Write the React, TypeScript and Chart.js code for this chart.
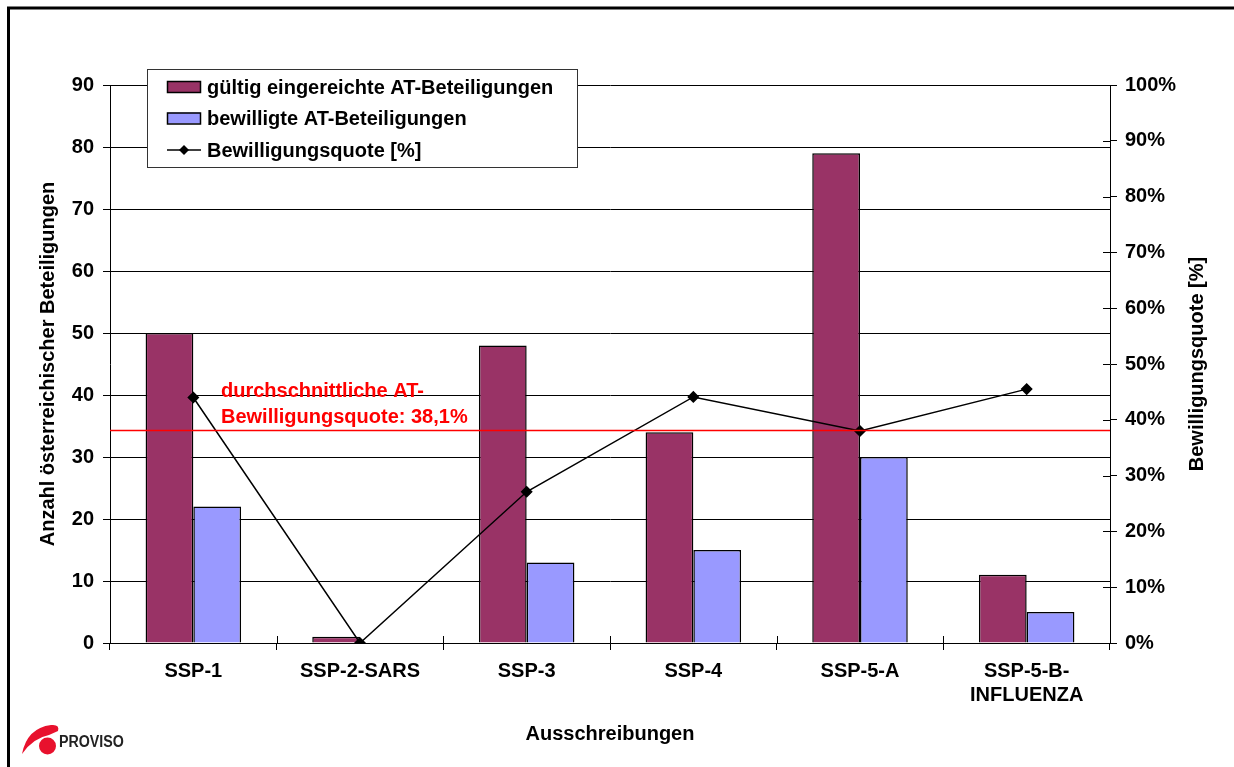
import React, { useEffect, useRef } from "react";
import { Chart, registerables } from "chart.js";

Chart.register(...registerables);

const categories: (string | string[])[] = ["SSP-1", "SSP-2-SARS", "SSP-3", "SSP-4", "SSP-5-A", ["SSP-5-B-", "INFLUENZA"]];
const submitted = [50, 1, 48, 34, 79, 11];
const approved = [22, 0, 13, 15, 30, 5];
const quota = [44, 0, 27.1, 44.1, 38, 45.5];
const averageQuota = 38.1;
const leftMax = 90;
const rightMax = 100;
const tickStep = 10;

const legendLabels = ["gültig eingereichte AT-Beteiligungen", "bewilligte AT-Beteiligungen", "Bewilligungsquote [%]"];
const averageText = ["durchschnittliche AT-", "Bewilligungsquote: 38,1%"];
const leftTitle = "Anzahl österreichischer Beteiligungen";
const rightTitle = "Bewilligungsquote [%]";
const bottomTitle = "Ausschreibungen";
const logoText = "PROVISO";

const PURPLE = "#993366";
const BLUE = "#9999FF";
const FONT_FAMILY = "Arial, 'Liberation Sans', Helvetica, sans-serif";
const BOLD20 = `bold 20px ${FONT_FAMILY}`;

const decorPlugin = {
  id: "decor",
  afterDatasetsDraw(chart: any) {
    const ctx = chart.ctx;
    const { left, right } = chart.chartArea;
    const y2 = chart.scales.y2;
    const yAvg = y2.getPixelForValue(averageQuota);
    ctx.save();
    ctx.strokeStyle = "#FF0000";
    ctx.lineWidth = 1.5;
    ctx.beginPath();
    ctx.moveTo(left, yAvg);
    ctx.lineTo(right, yAvg);
    ctx.stroke();
    ctx.fillStyle = "#FF0000";
    ctx.font = BOLD20;
    ctx.textAlign = "left";
    ctx.textBaseline = "alphabetic";
    ctx.fillText(averageText[0], 221, 397);
    ctx.fillText(averageText[1], 221, 423);
    ctx.restore();
  },
  afterDraw(chart: any) {
    const ctx = chart.ctx;
    const { left, right, top, bottom } = chart.chartArea;
    ctx.save();

    // inward tick marks on right axis
    const y2 = chart.scales.y2;
    ctx.strokeStyle = "#000";
    ctx.lineWidth = 1;
    for (let v = 0; v <= rightMax; v += tickStep) {
      const y = Math.round(y2.getPixelForValue(v)) + 0.5;
      ctx.beginPath();
      ctx.moveTo(right - 7, y);
      ctx.lineTo(right, y);
      ctx.stroke();
    }
    // inward tick marks on x axis
    const n = categories.length;
    const w = (right - left) / n;
    for (let i = 0; i <= n; i++) {
      const x = Math.round(left + i * w) + 0.5;
      ctx.beginPath();
      ctx.moveTo(x, bottom - 7);
      ctx.lineTo(x, bottom);
      ctx.stroke();
    }

    // legend
    const lx = 147, ly = 69, lw = 430, lh = 98;
    ctx.fillStyle = "#fff";
    ctx.fillRect(lx, ly, lw, lh);
    ctx.strokeStyle = "#333";
    ctx.lineWidth = 1;
    ctx.strokeRect(lx + 0.5, ly + 0.5, lw, lh);
    const rows = [87, 118.5, 150];
    ctx.font = BOLD20;
    ctx.textBaseline = "middle";
    ctx.textAlign = "left";
    [PURPLE, BLUE].forEach((c, i) => {
      ctx.fillStyle = c;
      ctx.fillRect(167, rows[i] - 6, 33, 11);
      ctx.strokeStyle = "#000";
      ctx.lineWidth = 1.5;
      ctx.strokeRect(167.5, rows[i] - 5.5, 33, 11);
    });
    ctx.strokeStyle = "#000";
    ctx.lineWidth = 1.5;
    ctx.beginPath();
    ctx.moveTo(167, rows[2]);
    ctx.lineTo(201, rows[2]);
    ctx.stroke();
    ctx.fillStyle = "#000";
    ctx.beginPath();
    ctx.moveTo(184, rows[2] - 5);
    ctx.lineTo(189, rows[2]);
    ctx.lineTo(184, rows[2] + 5);
    ctx.lineTo(179, rows[2]);
    ctx.closePath();
    ctx.fill();
    legendLabels.forEach((t, i) => {
      ctx.fillStyle = "#000";
      ctx.fillText(t, 207, rows[i] + 1);
    });

    // axis titles
    ctx.fillStyle = "#000";
    ctx.font = BOLD20;
    ctx.textAlign = "center";
    ctx.textBaseline = "middle";
    const midY = (top + bottom) / 2;
    ctx.save();
    ctx.translate(48, midY);
    ctx.rotate(-Math.PI / 2);
    ctx.fillText(leftTitle, 0, 0);
    ctx.restore();
    ctx.save();
    ctx.translate(1197, midY);
    ctx.rotate(-Math.PI / 2);
    ctx.fillText(rightTitle, 0, 0);
    ctx.restore();
    ctx.fillText(bottomTitle, (left + right) / 2, 734);

    // logo
    ctx.fillStyle = "#E8112D";
    ctx.beginPath();
    ctx.moveTo(22, 754);
    ctx.quadraticCurveTo(27, 728, 51, 725);
    ctx.quadraticCurveTo(60, 724, 58, 731);
    ctx.lineTo(49, 735);
    ctx.quadraticCurveTo(33, 738, 22, 754);
    ctx.closePath();
    ctx.fill();
    ctx.beginPath();
    ctx.arc(47.5, 746, 8.5, 0, Math.PI * 2);
    ctx.fill();
    ctx.save();
    ctx.fillStyle = "#222";
    ctx.font = `bold 16px ${FONT_FAMILY}`;
    ctx.textAlign = "left";
    ctx.textBaseline = "alphabetic";
    ctx.translate(59, 747);
    ctx.scale(0.89, 1);
    ctx.fillText(logoText, 0, 0);
    ctx.restore();

    // frame
    ctx.strokeStyle = "#000";
    ctx.lineWidth = 3;
    ctx.strokeRect(8.5, 8, 1300, 800);

    ctx.restore();
  },
};

export default function App() {
  const ref = useRef<HTMLCanvasElement | null>(null);
  useEffect(() => {
    if (!ref.current) return;
    const tickFont = { family: FONT_FAMILY, size: 20, weight: "bold" as const };
    const chart = new Chart(ref.current, {
      type: "bar",
      data: {
        labels: categories as any,
        datasets: [
          {
            type: "line" as const,
            label: legendLabels[2],
            data: quota,
            yAxisID: "y2",
            borderColor: "#000",
            backgroundColor: "#000",
            borderWidth: 1.5,
            pointStyle: "rectRot",
            pointRadius: 5,
            pointBackgroundColor: "#000",
            pointBorderColor: "#000",
            tension: 0,
            order: 0,
          } as any,
          {
            label: legendLabels[0],
            data: submitted,
            yAxisID: "y",
            backgroundColor: PURPLE,
            borderColor: "#000",
            borderWidth: 1.5,
            categoryPercentage: 0.573,
            barPercentage: 1,
            order: 1,
          },
          {
            label: legendLabels[1],
            data: approved,
            yAxisID: "y",
            backgroundColor: BLUE,
            borderColor: "#000",
            borderWidth: 1.5,
            categoryPercentage: 0.573,
            barPercentage: 1,
            order: 1,
          },
        ],
      },
      options: {
        responsive: false,
        animation: false,
        devicePixelRatio: 1,
        layout: { padding: { top: 85, left: 0, right: 0, bottom: 0 } },
        plugins: { legend: { display: false }, tooltip: { enabled: false } },
        scales: {
          x: {
            grid: { drawOnChartArea: false, tickLength: 7, color: "#000", offset: true },
            border: { color: "#000" },
            ticks: { font: tickFont, color: "#000", padding: 9, maxRotation: 0, autoSkip: false },
            afterFit: (s: any) => { s.height = 124; },
          },
          y: {
            position: "left",
            min: 0,
            max: leftMax,
            ticks: { stepSize: tickStep, font: tickFont, color: "#000", padding: 9 },
            grid: { color: "#000", tickLength: 7 },
            border: { color: "#000" },
            afterFit: (s: any) => { s.width = 110; },
          },
          y2: {
            position: "right",
            min: 0,
            max: rightMax,
            ticks: { stepSize: tickStep, font: tickFont, color: "#000", padding: 8, callback: (v: any) => v + "%" },
            grid: { drawOnChartArea: false, tickLength: 7, color: "#000" },
            border: { color: "#000" },
            afterFit: (s: any) => { s.width = 124; },
          },
        },
      },
      plugins: [decorPlugin],
    });
    return () => chart.destroy();
  }, []);
  return (
    <div style={{ position: "fixed", left: 0, top: 0, width: 1234, height: 767, background: "#fff" }}>
      <canvas ref={ref} width={1234} height={767} style={{ display: "block" }} />
    </div>
  );
}
